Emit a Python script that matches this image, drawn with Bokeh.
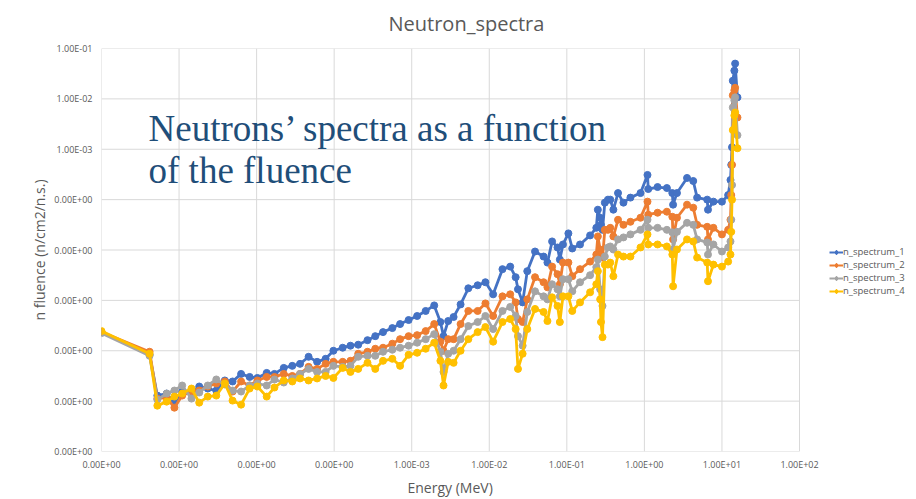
import numpy as np
from bokeh.plotting import figure
from bokeh.models import (Range1d, FixedTicker, CustomJSTickFormatter, Legend,
                          LegendItem, Label, Title)
from bokeh.embed import file_html
from bokeh.resources import INLINE

# ---------------- data (log10 values) ----------------
log10_energy_mev = [
    -7.00, -6.38, -6.28, -6.16, -6.06, -5.96, -5.84, -5.74, -5.63, -5.52,
    -5.41, -5.31, -5.20, -5.09, -4.99, -4.87, -4.77, -4.65, -4.54, -4.44,
    -4.33, -4.22, -4.11, -4.01, -3.89, -3.79, -3.69, -3.57, -3.47, -3.37,
    -3.25, -3.15, -3.04, -2.93, -2.82, -2.71, -2.63, -2.59, -2.53, -2.46,
    -2.37, -2.27, -2.15, -2.05, -1.95, -1.83, -1.73, -1.66, -1.63, -1.57,
    -1.51, -1.41, -1.30, -1.25, -1.19, -1.12, -1.09, -1.05, -0.98, -0.93,
    -0.83, -0.70, -0.62, -0.60, -0.57, -0.56, -0.54, -0.51, -0.47, -0.44,
    -0.40, -0.34, -0.27, -0.18, -0.05, 0.04, 0.05, 0.17, 0.29, 0.36,
    0.37, 0.42, 0.55, 0.63, 0.68, 0.81, 0.82, 0.89, 1.00, 1.08,
    1.11, 1.12, 1.13, 1.14, 1.16, 1.17, 1.20]

log10_n_spectrum_1 = [
    -6.63, -7.08, -7.89, -7.85, -8.03, -7.81, -7.83, -7.71, -7.75, -7.79,
    -7.59, -7.61, -7.46, -7.52, -7.54, -7.44, -7.46, -7.34, -7.30, -7.26,
    -7.12, -7.22, -7.16, -7.00, -6.94, -6.90, -6.88, -6.79, -6.71, -6.63,
    -6.55, -6.47, -6.39, -6.31, -6.21, -6.10, -6.43, -6.71, -6.41, -6.33,
    -6.08, -5.76, -5.70, -5.64, -5.88, -5.38, -5.33, -5.54, -5.78, -6.04,
    -5.42, -5.03, -5.13, -5.25, -4.83, -4.95, -5.19, -4.89, -4.67, -4.97,
    -4.89, -4.71, -4.56, -4.20, -4.36, -4.50, -4.60, -4.06, -4.00, -4.00,
    -4.20, -3.87, -4.06, -3.96, -3.87, -3.51, -3.79, -3.75, -3.77, -3.87,
    -4.10, -3.87, -3.57, -3.63, -3.96, -4.00, -4.20, -4.04, -4.04, -3.91,
    -3.61, -3.31, -2.96, -1.64, -1.44, -1.30, -1.97]

log10_n_spectrum_2 = [
    -6.63, -7.02, -7.95, -7.93, -8.13, -7.89, -7.81, -7.79, -7.71, -7.65,
    -7.61, -7.81, -7.61, -7.69, -7.59, -7.52, -7.52, -7.46, -7.50, -7.46,
    -7.32, -7.36, -7.26, -7.22, -7.22, -7.20, -7.06, -7.02, -6.96, -6.94,
    -6.86, -6.77, -6.71, -6.69, -6.61, -6.47, -6.82, -7.00, -6.77, -6.77,
    -6.47, -6.21, -6.21, -6.06, -6.31, -5.92, -5.88, -6.04, -6.37, -6.43,
    -5.98, -5.54, -5.64, -5.74, -5.33, -5.48, -5.68, -5.25, -5.25, -5.52,
    -5.38, -5.23, -5.09, -4.73, -4.99, -5.09, -5.15, -4.60, -4.60, -4.56,
    -4.73, -4.40, -4.50, -4.44, -4.36, -4.04, -4.30, -4.26, -4.24, -4.34,
    -4.79, -4.36, -4.10, -4.16, -4.50, -4.54, -4.79, -4.56, -4.69, -4.60,
    -4.40, -3.91, -3.31, -1.93, -1.83, -1.78, -2.37]

log10_n_spectrum_3 = [
    -6.65, -7.10, -7.97, -7.85, -7.79, -7.69, -7.95, -7.83, -7.69, -7.57,
    -7.67, -7.79, -7.81, -7.69, -7.65, -7.69, -7.57, -7.63, -7.55, -7.46,
    -7.36, -7.42, -7.42, -7.30, -7.32, -7.30, -7.12, -7.10, -7.10, -7.02,
    -6.98, -6.94, -6.90, -6.84, -6.77, -6.67, -7.02, -7.42, -7.06, -7.00,
    -6.77, -6.51, -6.43, -6.31, -6.57, -6.21, -6.13, -6.31, -6.71, -6.90,
    -6.23, -5.82, -5.92, -5.98, -5.68, -5.78, -5.92, -5.58, -5.58, -5.82,
    -5.64, -5.50, -5.34, -5.19, -5.78, -5.98, -6.11, -5.13, -4.95, -4.93,
    -4.99, -4.79, -4.75, -4.69, -4.60, -4.40, -4.56, -4.56, -4.60, -4.65,
    -4.99, -4.64, -4.46, -4.50, -4.79, -4.85, -5.09, -4.89, -5.03, -4.95,
    -4.83, -4.40, -3.71, -2.17, -2.03, -1.97, -2.72]

log10_n_spectrum_4 = [
    -6.61, -7.06, -8.09, -8.01, -7.91, -7.85, -7.75, -8.03, -7.91, -7.89,
    -7.65, -7.99, -8.07, -7.75, -7.71, -7.91, -7.73, -7.59, -7.61, -7.55,
    -7.59, -7.55, -7.50, -7.54, -7.34, -7.42, -7.36, -7.24, -7.36, -7.20,
    -7.16, -7.30, -7.08, -7.04, -6.96, -6.84, -7.20, -7.69, -7.22, -7.24,
    -7.00, -6.77, -6.63, -6.53, -6.82, -6.43, -6.37, -6.57, -7.36, -7.06,
    -6.57, -6.17, -6.23, -6.41, -5.94, -6.11, -6.43, -5.92, -5.92, -6.21,
    -6.04, -5.84, -5.68, -5.42, -5.98, -6.43, -6.73, -5.29, -5.29, -5.25,
    -5.52, -5.09, -5.13, -5.13, -4.95, -4.69, -4.89, -4.89, -4.93, -5.09,
    -5.72, -4.99, -4.79, -4.83, -5.15, -5.25, -5.62, -5.29, -5.33, -5.23,
    -5.09, -4.64, -4.00, -2.62, -2.33, -2.27, -2.98]

series_names = ["n_spectrum_1", "n_spectrum_2", "n_spectrum_3", "n_spectrum_4"]
series_colors = ["#4472C4", "#ED7D31", "#A5A5A5", "#FFC000"]

x_tick_values = [1e-7, 1e-6, 1e-5, 1e-4, 1e-3, 1e-2, 1e-1, 1e0, 1e1, 1e2]
x_tick_labels = ["0.00E+00", "0.00E+00", "0.00E+00", "0.00E+00", "1.00E-03",
                 "1.00E-02", "1.00E-01", "1.00E+00", "1.00E+01", "1.00E+02"]
y_tick_values = [1e-9, 1e-8, 1e-7, 1e-6, 1e-5, 1e-4, 1e-3, 1e-2, 1e-1]
y_tick_labels = ["0.00E+00", "0.00E+00", "0.00E+00", "0.00E+00", "0.00E+00",
                 "0.00E+00", "1.00E-03", "1.00E-02", "1.00E-01"]

title_text = "Neutron_spectra"
x_label = "Energy (MeV)"
y_label = "n fluence (n/cm2/n.s.)"
note_lines = ["Neutrons\u2019 spectra as a function", "of the fluence"]

# ---------------- conversion ----------------
energy = [10 ** v for v in log10_energy_mev]
series = [[10 ** v for v in s] for s in (log10_n_spectrum_1, log10_n_spectrum_2,
                                          log10_n_spectrum_3, log10_n_spectrum_4)]

FONT = "Open Sans"
GREY_TXT = "#595959"
GRID = "#D9D9D9"

# the frame runs on to the right edge so that the legend can sit inside it;
# the plotted decades (1e-7 .. 1e2) take 698 px of the 814 px wide frame
x_end = 10 ** (2 + 9 * 116 / 698)

p = figure(width=915, height=498, x_axis_type="log", y_axis_type="log",
           x_range=Range1d(1e-7, x_end), y_range=Range1d(1e-9, 1e-1),
           output_backend="svg", toolbar_location=None,
           min_border_left=101, min_border_right=0,
           min_border_top=48, min_border_bottom=45)
p.background_fill_color = "white"
p.border_fill_color = "white"
p.outline_line_color = None

p.title.text = title_text
p.title.align = "left"
p.title.offset = 287
p.title.vertical_align = "top"
p.title.standoff = 19
p.title.text_font = FONT
p.title.text_font_size = "20px"
p.title.text_font_style = "normal"
p.title.text_color = GREY_TXT

xt = FixedTicker(ticks=x_tick_values, minor_ticks=[])
yt = FixedTicker(ticks=y_tick_values, minor_ticks=[])
xmap = {str(int(round(np.log10(v)))): lab for v, lab in zip(x_tick_values, x_tick_labels)}
ymap = {str(int(round(np.log10(v)))): lab for v, lab in zip(y_tick_values, y_tick_labels)}
code = "const k = String(Math.round(Math.log10(tick))); return (k in labels) ? labels[k] : '';"
p.xaxis.ticker = xt
p.yaxis.ticker = yt
p.xaxis.formatter = CustomJSTickFormatter(args=dict(labels=xmap), code=code)
p.yaxis.formatter = CustomJSTickFormatter(args=dict(labels=ymap), code=code)

for ax in (p.xaxis[0], p.yaxis[0]):
    ax.major_tick_line_color = None
    ax.minor_tick_line_color = None
    ax.axis_line_color = None
    ax.major_label_text_font = FONT
    ax.major_label_text_font_size = "9px"
    ax.major_label_text_color = GREY_TXT
    ax.axis_label_text_font = FONT
    ax.axis_label_text_font_size = "14px"
    ax.axis_label_text_font_style = "normal"
    ax.axis_label_text_color = GREY_TXT
p.yaxis.axis_label = y_label
p.xaxis.major_label_standoff = 0
p.yaxis.major_label_standoff = 3
p.yaxis.axis_label_standoff = 2

# x-axis title centred under the plotted decades (not under the legend area)
p.add_layout(Title(text=x_label, align="left", offset=306, text_font=FONT,
                   text_font_size="14px", text_font_style="normal",
                   text_color=GREY_TXT, standoff=4), "below")

# grid limited to the plotted decades
p.xgrid.visible = False
p.ygrid.visible = False
nx, ny = len(x_tick_values), len(y_tick_values)
p.segment(x0=x_tick_values, x1=x_tick_values,
          y0=[y_tick_values[0]] * nx, y1=[y_tick_values[-1]] * nx,
          line_color=GRID, line_width=1)
p.segment(x0=[x_tick_values[0]] * ny, x1=[x_tick_values[-1]] * ny,
          y0=y_tick_values, y1=y_tick_values,
          line_color=GRID, line_width=1)

for ys, col in zip(series, series_colors):
    p.line(energy, ys, line_color=col, line_width=2.8)
    p.scatter(energy, ys, size=7, marker="circle", fill_color=col, line_color=col)

# legend glyphs (line + diamond marker, as in the original); the point lies off-range
items = []
for name, col in zip(series_names, series_colors):
    lr = p.line(x=[1e-12], y=[1e-12], line_color=col, line_width=2)
    sr = p.scatter(x=[1e-12], y=[1e-12], marker="diamond", size=10,
                   fill_color=col, line_color=col)
    items.append(LegendItem(label=name, renderers=[lr, sr]))
legend = Legend(items=items, location=(728, 154), orientation="vertical",
                padding=0, margin=0, spacing=0, glyph_width=14, glyph_height=12,
                label_height=12, label_standoff=0, label_text_font=FONT,
                label_text_font_size="9.5px", label_text_color=GREY_TXT,
                border_line_color=None, background_fill_alpha=0)
p.add_layout(legend)

# annotation text
note_x = 4.04e-7
note_y = [2.64e-3, 3.87e-4]
for t, yy in zip(note_lines, note_y):
    p.add_layout(Label(x=note_x, y=yy, text=t, text_font="Liberation Serif",
                       text_font_size="37px", text_color="#1F4E79",
                       text_baseline="alphabetic", text_align="left"))

open("out.html", "w").write(file_html(p, INLINE))
